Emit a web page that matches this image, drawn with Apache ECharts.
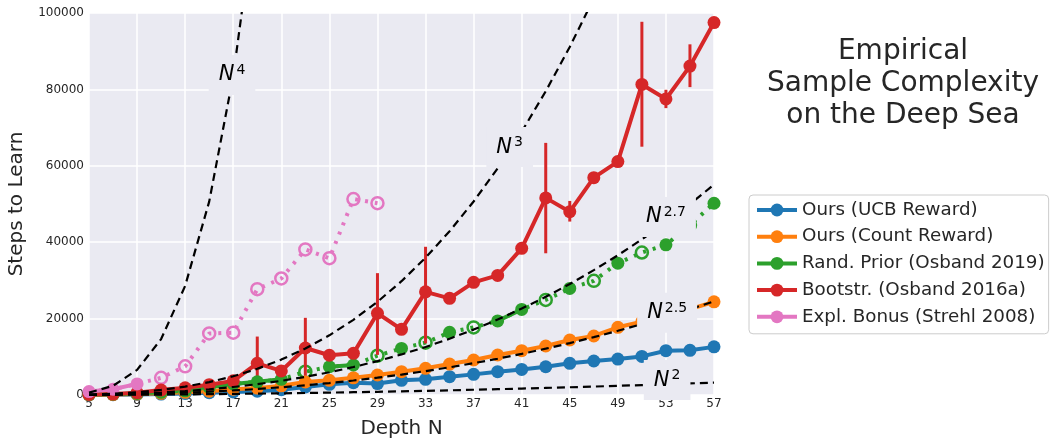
<!DOCTYPE html>
<html>
<head>
<meta charset="utf-8">
<title>Empirical Sample Complexity on the Deep Sea</title>
<script src="https://cdn.jsdelivr.net/npm/echarts@6/dist/echarts.min.js"></script>
<style>
  html, body { margin: 0; padding: 0; background: #fff; }
  #chart { width: 1056px; height: 439px; }
</style>
</head>
<body>
<div id="chart"></div>
<script>
// depths (odd N)
const depths = [5, 7, 9, 11, 13, 15, 17, 19, 21, 23, 25, 27, 29, 31, 33, 35, 37, 39, 41, 43, 45, 47, 49, 51, 53, 55, 57]

// steps to learn
const ucbSteps = [30, 80, 150, 250, 400, 600, 800, 1000, 1400, 2100, 2800, 3200, 3000, 3850, 4100, 4800, 5400, 6100, 6700, 7400, 8300, 8900, 9400, 10100, 11600, 11700, 12600]
const countSteps = [50, 120, 250, 450, 700, 1000, 1500, 1800, 2400, 3400, 3850, 4500, 5240, 6100, 6980, 8100, 9160, 10470, 11600, 12830, 14400, 15450, 17720, 19200, 20800, 22500, 24400]
const priorSteps = [100, 200, 400, 700, 1100, 2000, 2900, 3450, 4100, 6100, 7400, 7850, 10300, 12200, 13700, 16400, 17700, 19400, 22400, 24900, 27900, 29900, 34500, 37300, 39300, 44500, 50200]
const bootSteps = [150, 250, 600, 1300, 1900, 2700, 3700, 8300, 6300, 12300, 10400, 10900, 21400, 17200, 27000, 25300, 29500, 31300, 38400, 51600, 48000, 56900, 61100, 81300, 77500, 86100, 97500]
const bonusDepths = [5, 7, 9, 11, 13, 15, 17, 19, 21, 23, 25, 27, 29]
const bonusSteps = [900, 1500, 2900, 4500, 7500, 16100, 16300, 27700, 30500, 38100, 35800, 51300, 50200]

// depths drawn with hollow markers (not every seed solved)
const priorHollow = [23, 29, 33, 37, 43, 47, 51, 55]
const bonusHollow = [11, 13, 15, 17, 19, 21, 23, 25, 27, 29]

// bootstrap error bars
const bootErrDepths = [19, 23, 29, 33, 43, 45, 51, 53, 55]
const bootErrLow = [4500, 5000, 10500, 13500, 37100, 45400, 65000, 75100, 80600]
const bootErrHigh = [15300, 20200, 31900, 38800, 66000, 50800, 97700, 79900, 91800]

// reference curves N^k
const curveN2 = [25, 49, 81, 121, 169, 225, 289, 361, 441, 529, 625, 729, 841, 961, 1089, 1225, 1369, 1521, 1681, 1849, 2025, 2209, 2401, 2601, 2809, 3025, 3249]
const curveN25 = [56, 130, 243, 401, 609, 871, 1192, 1574, 2021, 2537, 3125, 3788, 4529, 5351, 6256, 7247, 8327, 9499, 10764, 12125, 13584, 15144, 16807, 18575, 20450, 22434, 24530]
const curveN27 = [77, 191, 377, 648, 1018, 1497, 2099, 2834, 3713, 4748, 5946, 7318, 8872, 10620, 12570, 14730, 17120, 19740, 22620, 25700, 29060, 32680, 36570, 40740, 45200, 49950, 55070]
const curveN3 = [125, 343, 729, 1331, 2197, 3375, 4913, 6859, 9261, 12167, 15625, 19683, 24389, 29791, 35937, 42875, 50653, 59319, 68921, 79507, 91125, 103823, 117649, 132651, 148877, 166375, 185193]
const curveN4 = [625, 2401, 6561, 14641, 28561, 50625, 83521, 130321, 194481]

// in-line labels of the curves
const curveLabels = ['{n|N}{e|4}', '{n|N}{e|3}', '{n|N}{e|2.7}', '{n|N}{e|2.5}', '{n|N}{e|2}']
const curveLabelAt = [[16.9, 83800], [40, 64900], [53, 46600], [53.1, 21500], [53.1, 3900]]

const names = ['Ours (UCB Reward)', 'Ours (Count Reward)', 'Rand. Prior (Osband 2019)', 'Bootstr. (Osband 2016a)', 'Expl. Bonus (Strehl 2008)']
const colors = ['#1f77b4', '#ff7f0e', '#2ca02c', '#d62728', '#e377c2']

const FONT = 'DejaVu Sans'
const TEXT = '#262626'
const PLOT_BG = '#eaeaf2'

const pairs = (xs, ys) => ys.map((v, i) => [xs[i], v])

// filled points only; hollow ones become gaps so only filled-filled segments are solid
const filledOnly = (xs, ys, hollow) => ys.map((v, i) => hollow.includes(xs[i]) ? [xs[i], null] : [xs[i], v])

// every point, markers only where hollow
const dottedAll = (xs, ys, hollow, color) => ys.map((v, i) => {
  if (hollow.includes(xs[i])) {
    return { value: [xs[i], v], symbol: 'circle', itemStyle: { color: 'rgba(0,0,0,0)', borderColor: color, borderWidth: 2.5 } }
  }
  return { value: [xs[i], v], symbol: 'none' }
})

const solidSeries = (name, color, data) => ({
  name,
  type: 'line',
  data,
  symbol: 'circle',
  symbolSize: 13,
  showAllSymbol: true,
  connectNulls: false,
  lineStyle: { color, width: 4 },
  itemStyle: { color },
  z: 3
})

const dottedSeries = (id, color, data) => ({
  id,
  name: id,
  type: 'line',
  data,
  symbolSize: 12,
  showAllSymbol: true,
  lineStyle: { color, width: 4, type: [3, 7], cap: 'butt' },
  itemStyle: { color },
  z: 2
})

const curveSeries = (id, values) => ({
  id,
  name: id,
  type: 'line',
  data: pairs(depths, values),
  symbol: 'none',
  lineStyle: { color: '#000', width: 2.2, type: [8, 5] },
  z: 4,
  silent: true
})

const chart = echarts.init(document.getElementById('chart'))

const option = {
  animation: false,
  backgroundColor: '#fff',
  textStyle: { fontFamily: FONT },
  grid: {
    left: 89, right: 342, top: 13, bottom: 44,
    outerBoundsMode: 'none',
    containLabel: false,
    show: true, backgroundColor: PLOT_BG, borderWidth: 0
  },
  graphic: [{
    type: 'text',
    x: 903,
    y: 36,
    style: {
      text: 'Empirical\nSample Complexity\non the Deep Sea',
      font: '28px "DejaVu Sans"',
      fill: TEXT,
      align: 'center',
      lineHeight: 32
    }
  }],
  legend: {
    data: names,
    orient: 'vertical',
    left: 749,
    top: 195,
    padding: [5, 4, 7, 6],
    itemWidth: 40,
    itemHeight: 16,
    itemGap: 6.7,
    itemTextGap: 11,
    lineStyle: { width: 4 },
    borderColor: '#cccccc',
    borderWidth: 1,
    borderRadius: 4,
    backgroundColor: '#fff',
    textStyle: { fontFamily: FONT, fontSize: 18.3, color: TEXT, lineHeight: 20 }
  },
  xAxis: {
    type: 'value',
    min: 5,
    max: 57,
    interval: 4,
    name: 'Depth N',
    nameLocation: 'middle',
    nameGap: 24,
    nameTextStyle: { fontFamily: FONT, fontSize: 20, color: TEXT },
    axisLine: { show: false },
    axisTick: { show: false },
    axisLabel: { fontFamily: FONT, fontSize: 12, color: TEXT, margin: 3 },
    splitLine: { lineStyle: { color: '#fff', width: 1.5 } }
  },
  yAxis: {
    type: 'value',
    min: 0,
    max: 100000,
    interval: 20000,
    name: 'Steps to Learn',
    nameLocation: 'middle',
    nameGap: 60,
    nameTextStyle: { fontFamily: FONT, fontSize: 20, color: TEXT },
    axisLine: { show: false },
    axisTick: { show: false },
    axisLabel: { fontFamily: FONT, fontSize: 12, color: TEXT, margin: 5, formatter: v => String(v) },
    splitLine: { lineStyle: { color: '#fff', width: 1.5 } }
  },
  series: [
    dottedSeries('prior-dotted', colors[2], dottedAll(depths, priorSteps, priorHollow, colors[2])),
    dottedSeries('bonus-dotted', colors[4], dottedAll(bonusDepths, bonusSteps, bonusHollow, colors[4])),
    solidSeries(names[0], colors[0], pairs(depths, ucbSteps)),
    solidSeries(names[1], colors[1], pairs(depths, countSteps)),
    solidSeries(names[2], colors[2], filledOnly(depths, priorSteps, priorHollow)),
    solidSeries(names[3], colors[3], pairs(depths, bootSteps)),
    solidSeries(names[4], colors[4], filledOnly(bonusDepths, bonusSteps, bonusHollow)),
    {
      id: 'boot-err',
      type: 'custom',
      data: bootErrDepths.map((d, i) => [d, bootErrLow[i], bootErrHigh[i]]),
      renderItem: (params, api) => {
        const p1 = api.coord([api.value(0), api.value(1)])
        const p2 = api.coord([api.value(0), api.value(2)])
        return {
          type: 'line',
          shape: { x1: p1[0], y1: p1[1], x2: p2[0], y2: p2[1] },
          style: { stroke: colors[3], lineWidth: 3 }
        }
      },
      z: 3
    },
    curveSeries('N2', curveN2),
    curveSeries('N2.5', curveN25),
    curveSeries('N2.7', curveN27),
    curveSeries('N3', curveN3),
    curveSeries('N4', curveN4),
    {
      // curve names sit on the curves in a box of the plot colour
      id: 'curve-labels',
      type: 'custom',
      silent: true,
      clip: false,
      z: 10,
      data: curveLabelAt.map((p, i) => [p[0], p[1], i]),
      renderItem: (params, api) => {
        const pt = api.coord([api.value(0), api.value(1)])
        return {
          type: 'text',
          x: pt[0],
          y: pt[1],
          z2: 100,
          style: {
            text: curveLabels[api.value(2)],
            align: 'center',
            verticalAlign: 'middle',
            backgroundColor: PLOT_BG,
            padding: [8, 10, 8, 10],
            rich: {
              n: { fontFamily: FONT, fontStyle: 'italic', fontSize: 21, fill: '#000', lineHeight: 24 },
              e: { fontFamily: FONT, fontSize: 14, fill: '#000', verticalAlign: 'top', lineHeight: 14, padding: [0, 0, 0, 2] }
            }
          }
        }
      }
    }
  ]
}

chart.setOption(option)
</script>
</body>
</html>
